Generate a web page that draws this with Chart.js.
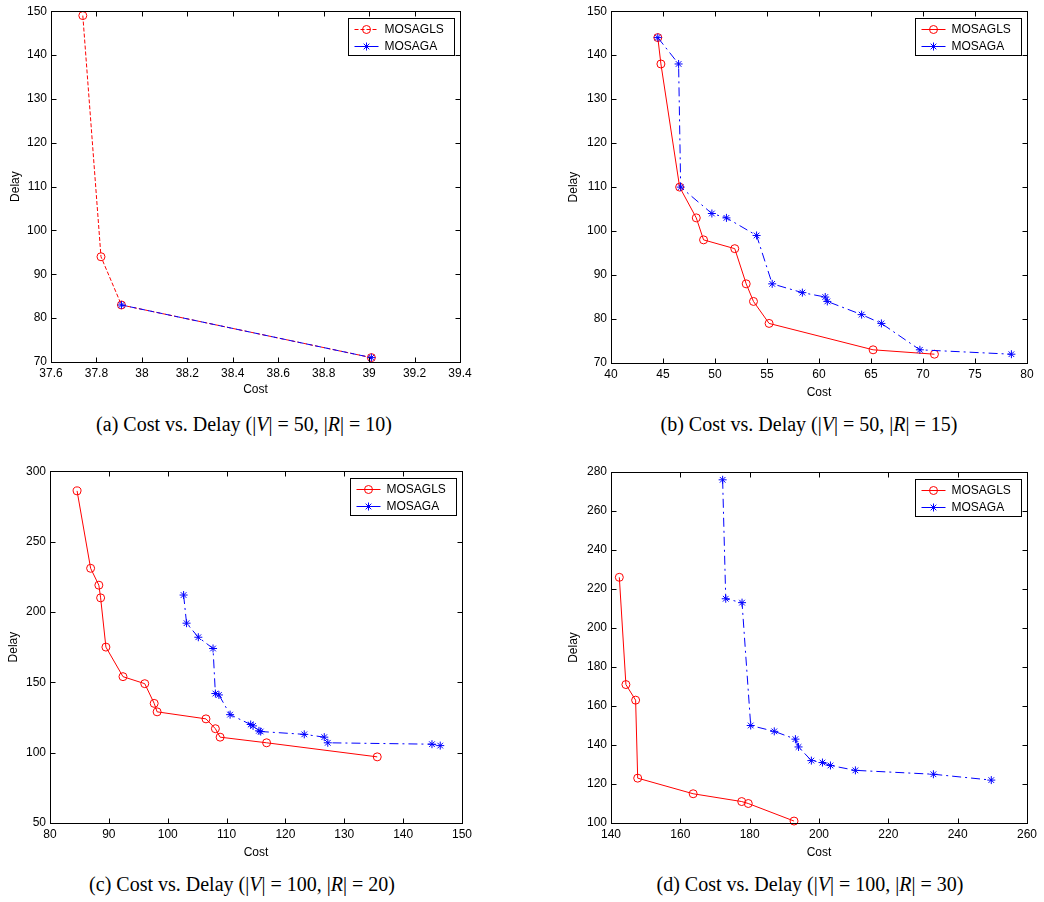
<!DOCTYPE html>
<html>
<head>
<meta charset="utf-8">
<script src="https://cdn.jsdelivr.net/npm/chart.js"></script>
<style>
  body { margin: 0; background: #fff; width: 1044px; height: 902px; position: relative; overflow: hidden; }
  canvas { position: absolute; }
  .cap { position: absolute; width: 500px; text-align: center; font: 20px "Liberation Serif", "Times New Roman", serif; line-height: 24px; color: #000; white-space: nowrap; }
</style>
</head>
<body>
<canvas id="chartA" width="480" height="400" style="left:0;top:0"></canvas>
<canvas id="chartB" width="504" height="400" style="left:540px;top:0"></canvas>
<canvas id="chartC" width="480" height="400" style="left:0;top:460px"></canvas>
<canvas id="chartD" width="504" height="400" style="left:540px;top:460px"></canvas>
<div class="cap" style="left:-6px;top:412px">(a) Cost vs. Delay (|<i>V</i>| = 50, |<i>R</i>| = 10)</div>
<div class="cap" style="left:559px;top:412px">(b) Cost vs. Delay (|<i>V</i>| = 50, |<i>R</i>| = 15)</div>
<div class="cap" style="left:-8px;top:872px">(c) Cost vs. Delay (|<i>V</i>| = 100, |<i>R</i>| = 20)</div>
<div class="cap" style="left:560px;top:872px">(d) Cost vs. Delay (|<i>V</i>| = 100, |<i>R</i>| = 30)</div>
<script>
const seriesNames = ["MOSAGLS", "MOSAGA"];

// (a) |V| = 50, |R| = 10
const costA_GLS = [37.74, 37.82, 37.91, 39.01];
const delayA_GLS = [149, 94, 83, 71];
const costA_GA = [37.91, 39.01];
const delayA_GA = [83, 71];
const costTicksA = [37.6, 37.8, 38, 38.2, 38.4, 38.6, 38.8, 39, 39.2, 39.4];
const delayTicksA = [70, 80, 90, 100, 110, 120, 130, 140, 150];

// (b) |V| = 50, |R| = 15
const costB_GLS = [44.5, 44.8, 46.6, 48.2, 48.9, 51.9, 53.0, 53.7, 55.2, 65.2, 71.1];
const delayB_GLS = [144, 138, 110, 103, 98, 96, 88, 84, 79, 73, 72];
const costB_GA = [44.5, 46.5, 46.7, 49.7, 51.1, 54.0, 55.5, 58.4, 60.6, 60.8, 64.1, 66.0, 69.7, 78.5];
const delayB_GA = [144, 138, 110, 104, 103, 99, 88, 86, 85, 84, 81, 79, 73, 72];
const costTicksB = [40, 45, 50, 55, 60, 65, 70, 75, 80];
const delayTicksB = [70, 80, 90, 100, 110, 120, 130, 140, 150];

// (c) |V| = 100, |R| = 20
const costC_GLS = [84.6, 86.9, 88.3, 88.6, 89.5, 92.4, 96.1, 97.7, 98.2, 106.5, 108.1, 108.9, 116.8, 135.6];
const delayC_GLS = [286, 231, 219, 210, 175, 154, 149, 135, 129, 124, 117, 111, 107, 97];
const costC_GA = [102.7, 103.2, 105.2, 107.7, 108.1, 108.7, 110.6, 114.1, 114.5, 115.5, 115.8, 123.2, 126.6, 127.2, 144.9, 146.3];
const delayC_GA = [212, 192, 182, 174, 142, 141, 127, 120, 119, 115.5, 115, 113, 111, 107, 106, 105];
const costTicksC = [80, 90, 100, 110, 120, 130, 140, 150];
const delayTicksC = [50, 100, 150, 200, 250, 300];

// (d) |V| = 100, |R| = 30
const costD_GLS = [142.4, 144.3, 147.1, 147.7, 163.7, 177.7, 179.6, 192.8];
const delayD_GLS = [226, 171, 163, 123, 115, 111, 110, 101];
const costD_GA = [172.2, 173.1, 177.8, 180.3, 187.1, 193.2, 194.1, 197.8, 201.0, 203.3, 210.5, 233.0, 249.7];
const delayD_GA = [276, 215, 213, 150, 147, 143, 139, 132, 131, 129.5, 127, 125, 122];
const costTicksD = [140, 160, 180, 200, 220, 240, 260];
const delayTicksD = [100, 120, 140, 160, 180, 200, 220, 240, 260, 280];

const RED = "#ff0000";
const BLUE = "#0000ff";
const FONT = { family: "'Liberation Sans', Arial, sans-serif", size: 12 };

function toPoints(xs, ys) {
  return xs.map((x, i) => ({ x, y: ys[i] }));
}

function fmt(v) {
  return String(Math.round(v * 10) / 10);
}

function drawMarker(ctx, style, x, y, r) {
  ctx.beginPath();
  if (style === "circle") {
    ctx.arc(x, y, r, 0, Math.PI * 2);
  } else {
    const d = r * Math.SQRT1_2;
    ctx.moveTo(x - r, y); ctx.lineTo(x + r, y);
    ctx.moveTo(x, y - r); ctx.lineTo(x, y + r);
    ctx.moveTo(x - d, y - d); ctx.lineTo(x + d, y + d);
    ctx.moveTo(x - d, y + d); ctx.lineTo(x + d, y - d);
  }
  ctx.stroke();
}

// Matlab-style box, inward ticks and boxed legend
const matlabFrame = {
  id: "matlabFrame",
  afterDatasetsDraw(chart, args, opts) {
    const { ctx, chartArea: a, scales } = chart;
    const L = Math.round(a.left) + 0.5, R = Math.round(a.right) + 0.5;
    const T = Math.round(a.top) + 0.5, B = Math.round(a.bottom) + 0.5;
    ctx.save();
    ctx.strokeStyle = "#000";
    ctx.lineWidth = 1;
    ctx.setLineDash([]);
    ctx.strokeRect(L, T, R - L, B - T);
    ctx.beginPath();
    scales.x.ticks.forEach(t => {
      const px = Math.round(scales.x.getPixelForValue(t.value)) + 0.5;
      ctx.moveTo(px, B); ctx.lineTo(px, B - 5);
      ctx.moveTo(px, T); ctx.lineTo(px, T + 5);
    });
    scales.y.ticks.forEach(t => {
      const py = Math.round(scales.y.getPixelForValue(t.value)) + 0.5;
      ctx.moveTo(L, py); ctx.lineTo(L + 5, py);
      ctx.moveTo(R, py); ctx.lineTo(R - 5, py);
    });
    ctx.stroke();

    // legend
    const sets = chart.data.datasets;
    ctx.font = "12px 'Liberation Sans', Arial, sans-serif";
    const textW = Math.max(...sets.map(d => ctx.measureText(d.label).width));
    const w = Math.round(36 + textW + 11), h = 37;
    const x0 = Math.round(a.right - 6 - w) + 0.5, y0 = Math.round(a.top + 7) + 0.5;
    ctx.fillStyle = "#fff";
    ctx.fillRect(x0, y0, w, h);
    ctx.strokeStyle = "#000";
    ctx.strokeRect(x0, y0, w, h);
    sets.forEach((d, i) => {
      const y = Math.round(y0 + 10 + i * 17) + 0.5;
      ctx.strokeStyle = d.borderColor;
      ctx.setLineDash(opts.legendDash[i]);
      ctx.beginPath();
      ctx.moveTo(x0 + 6, y); ctx.lineTo(x0 + 30, y);
      ctx.stroke();
      ctx.setLineDash([]);
      drawMarker(ctx, d.pointStyle, x0 + 18, y, 4);
      ctx.fillStyle = "#000";
      ctx.textBaseline = "middle";
      ctx.fillText(d.label, x0 + 36, y);
    });
    ctx.restore();
  }
};

function makeAxis(ticks, title, fit, titlePad) {
  return {
    type: "linear",
    min: ticks[0],
    max: ticks[ticks.length - 1],
    grid: { display: false, drawTicks: false },
    border: { display: false },
    afterBuildTicks: s => { s.ticks = ticks.map(v => ({ value: v })); },
    afterFit: fit,
    ticks: { color: "#000", font: FONT, padding: 4, maxRotation: 0, autoSkip: false, callback: v => fmt(v) },
    title: { display: true, text: title, color: "#000", font: FONT, padding: titlePad }
  };
}

function renderPanel(canvasId, p) {
  const ctx = document.getElementById(canvasId).getContext("2d");
  new Chart(ctx, {
    type: "scatter",
    data: {
      datasets: [
        {
          label: seriesNames[0],
          data: toPoints(p.glsCost, p.glsDelay),
          showLine: true,
          borderColor: RED,
          borderWidth: 1,
          borderDash: p.glsDash,
          pointStyle: "circle",
          pointRadius: 4,
          pointBorderWidth: 1,
          pointBorderColor: RED,
          pointBackgroundColor: "rgba(0,0,0,0)",
          clip: false,
          order: 1
        },
        {
          label: seriesNames[1],
          data: toPoints(p.gaCost, p.gaDelay),
          showLine: true,
          borderColor: BLUE,
          borderWidth: 1,
          borderDash: p.gaDash,
          pointStyle: "star",
          pointRadius: 4,
          pointBorderWidth: 1,
          pointBorderColor: BLUE,
          pointBackgroundColor: BLUE,
          clip: false,
          order: 0
        }
      ]
    },
    options: {
      responsive: false,
      animation: false,
      devicePixelRatio: 1,
      layout: { padding: { top: p.padTop, right: p.padRight, left: 0, bottom: 0 } },
      plugins: {
        legend: { display: false },
        tooltip: { enabled: false },
        matlabFrame: { legendDash: p.legendDash }
      },
      scales: {
        x: makeAxis(p.costTicks, "Cost", s => { s.height = p.xAxisH; }, { top: 0, bottom: p.xTitlePad }),
        y: makeAxis(p.delayTicks, "Delay", s => { s.width = p.yAxisW; }, { top: p.yTitlePad, bottom: 0 })
      }
    },
    plugins: [matlabFrame]
  });
}

const dashDot = [9, 4, 2, 4];

renderPanel("chartA", {
  glsCost: costA_GLS, glsDelay: delayA_GLS, gaCost: costA_GA, gaDelay: delayA_GA,
  costTicks: costTicksA, delayTicks: delayTicksA,
  glsDash: [4, 2], gaDash: [6, 3], legendDash: [[4, 2], []],
  padTop: 10, padRight: 20, yAxisW: 51, xAxisH: 38, yTitlePad: 8, xTitlePad: 3
});
renderPanel("chartB", {
  glsCost: costB_GLS, glsDelay: delayB_GLS, gaCost: costB_GA, gaDelay: delayB_GA,
  costTicks: costTicksB, delayTicks: delayTicksB,
  glsDash: [], gaDash: dashDot, legendDash: [[], []],
  padTop: 9, padRight: 17, yAxisW: 71, xAxisH: 37, yTitlePad: 26, xTitlePad: 0
});
renderPanel("chartC", {
  glsCost: costC_GLS, glsDelay: delayC_GLS, gaCost: costC_GA, gaDelay: delayC_GA,
  costTicks: costTicksC, delayTicks: delayTicksC,
  glsDash: [], gaDash: dashDot, legendDash: [[], []],
  padTop: 11, padRight: 18, yAxisW: 50, xAxisH: 37, yTitlePad: 6, xTitlePad: 0
});
renderPanel("chartD", {
  glsCost: costD_GLS, glsDelay: delayD_GLS, gaCost: costD_GA, gaDelay: delayD_GA,
  costTicks: costTicksD, delayTicks: delayTicksD,
  glsDash: [], gaDash: dashDot, legendDash: [[], []],
  padTop: 12, padRight: 17, yAxisW: 71, xAxisH: 37, yTitlePad: 26, xTitlePad: 0
});
</script>
</body>
</html>
